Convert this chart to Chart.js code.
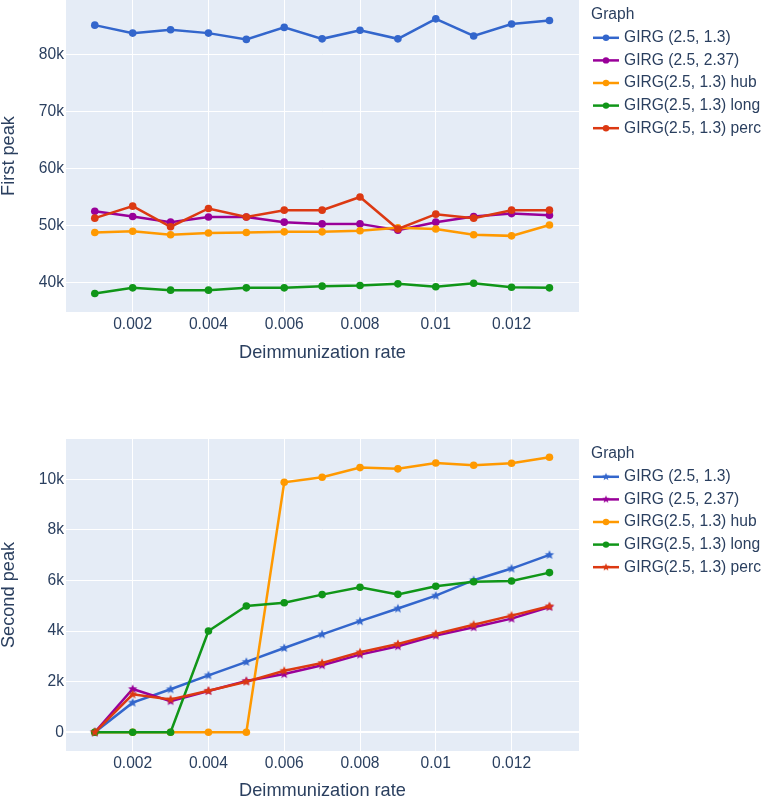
<!DOCTYPE html>
<html>
<head>
<meta charset="utf-8">
<script src="https://cdn.jsdelivr.net/npm/chart.js@4.4.1/dist/chart.umd.min.js"></script>
<style>
  html, body { margin: 0; padding: 0; background: #fff; overflow: hidden; width: 768px; height: 798px; }
  .panel { position: absolute; left: 0; width: 768px; }
  #top-panel { top: 0; height: 400px; }
  #bottom-panel { top: 400px; height: 420px; }
</style>
</head>
<body>
<div class="panel" id="top-panel"><canvas id="chart-first" width="768" height="400"></canvas></div>
<div class="panel" id="bottom-panel"><canvas id="chart-second" width="768" height="420"></canvas></div>
<script>
// Deimmunization rates (x) shared by both panels.
const RATES = [0.001, 0.002, 0.003, 0.004, 0.005, 0.006, 0.007, 0.008, 0.009, 0.010, 0.011, 0.012, 0.013];
const NAMES = ["GIRG (2.5, 1.3)", "GIRG (2.5, 2.37)", "GIRG(2.5, 1.3) hub", "GIRG(2.5, 1.3) long", "GIRG(2.5, 1.3) perc"];
const COLORS = ["#3366CC", "#990099", "#FF9900", "#109618", "#DC3912"];

// First peak
const FIRST_GIRG_13   = [85100, 83700, 84300, 83700, 82600, 84700, 82700, 84200, 82700, 86200, 83200, 85300, 85900];
const FIRST_GIRG_237  = [52500, 51600, 50600, 51500, 51500, 50600, 50300, 50300, 49200, 50600, 51600, 52100, 51800];
const FIRST_HUB       = [48800, 49000, 48400, 48700, 48800, 48900, 48900, 49100, 49600, 49400, 48400, 48200, 50100];
const FIRST_LONG      = [38100, 39100, 38700, 38700, 39100, 39100, 39400, 39500, 39800, 39300, 39900, 39200, 39100];
const FIRST_PERC      = [51300, 53400, 49800, 53000, 51500, 52700, 52700, 55000, 49400, 52000, 51300, 52700, 52700];

// Second peak
const SECOND_GIRG_13  = [0, 1170, 1700, 2250, 2780, 3330, 3870, 4390, 4890, 5400, 6010, 6470, 7010];
const SECOND_GIRG_237 = [0, 1710, 1230, 1630, 2030, 2300, 2650, 3070, 3400, 3820, 4150, 4490, 4950];
const SECOND_HUB      = [0, 0, 0, 0, 0, 9880, 10080, 10460, 10410, 10640, 10550, 10630, 10870];
const SECOND_LONG     = [0, 0, 0, 4000, 4990, 5120, 5440, 5730, 5450, 5770, 5950, 5980, 6310];
const SECOND_PERC     = [0, 1500, 1300, 1640, 2000, 2430, 2740, 3160, 3490, 3890, 4250, 4610, 4980];

const X_TICKS = [0.002, 0.004, 0.006, 0.008, 0.01, 0.012];

const INK = "#2a3f5f";
const PLOT_BG = "#E5ECF6";
const FONT = '"Liberation Sans", Arial, sans-serif';

Chart.defaults.font.family = FONT;
Chart.defaults.color = INK;

// filled five-point star, like plotly's "star" marker
function makeStar(color, r) {
  const size = Math.ceil(r * 2 + 2);
  const c = document.createElement("canvas");
  c.width = size; c.height = size;
  const g = c.getContext("2d");
  const cx = size / 2, cy = size / 2, inner = r * 0.45;
  g.beginPath();
  for (let i = 0; i < 10; i++) {
    const rad = i % 2 === 0 ? r : inner;
    const a = -Math.PI / 2 + i * Math.PI / 5;
    const px = cx + rad * Math.cos(a), py = cy + rad * Math.sin(a);
    i === 0 ? g.moveTo(px, py) : g.lineTo(px, py);
  }
  g.closePath();
  g.fillStyle = color;
  g.fill();
  return c;
}

const pts = (ys) => RATES.map((x, i) => ({ x, y: ys[i] }));

function datasets(series, markers) {
  return series.map((ys, i) => ({
    label: NAMES[i],
    data: pts(ys),
    borderColor: COLORS[i],
    backgroundColor: COLORS[i],
    borderWidth: 2.5,
    pointRadius: 3.8,
    pointBorderWidth: 0,
    pointStyle: markers[i] === "star" ? makeStar(COLORS[i], 4.8) : "circle",
    tension: 0,
    order: series.length - i,   // later traces on top, as in the source
  }));
}

// plot background + right-hand legend with "Graph" title
function panelPlugin(markers) {
  return {
    id: "panel",
    beforeDraw(chart) {
      const { ctx, chartArea: a } = chart;
      ctx.save();
      ctx.fillStyle = PLOT_BG;
      ctx.fillRect(a.left, a.top, a.right - a.left, a.bottom - a.top);
      ctx.restore();
    },
    afterDraw(chart) {
      const { ctx, chartArea: a } = chart;
      const x0 = a.right + 12;
      ctx.save();
      ctx.font = `15.6px ${FONT}`;
      ctx.fillStyle = INK;
      ctx.textBaseline = "middle";
      ctx.textAlign = "left";
      ctx.fillText("Graph", x0, a.top + 15);
      NAMES.forEach((name, i) => {
        const y = a.top + 37.8 + i * 22.6;
        ctx.strokeStyle = COLORS[i];
        ctx.lineWidth = 2.5;
        ctx.beginPath();
        ctx.moveTo(x0 + 2, y);
        ctx.lineTo(x0 + 28, y);
        ctx.stroke();
        if (markers[i] === "star") {
          const s = makeStar(COLORS[i], 4);
          ctx.drawImage(s, x0 + 15 - s.width / 2, y - s.height / 2);
        } else {
          ctx.fillStyle = COLORS[i];
          ctx.beginPath();
          ctx.arc(x0 + 15, y, 3.2, 0, Math.PI * 2);
          ctx.fill();
        }
        ctx.fillStyle = INK;
        ctx.fillText(name, x0 + 33, y);
      });
      ctx.restore();
    },
  };
}

function buildChart(canvasId, opts) {
  return new Chart(document.getElementById(canvasId), {
    type: "line",
    data: { datasets: datasets(opts.series, opts.markers) },
    options: {
      responsive: false,
      animation: false,
      layout: { autoPadding: false, padding: { top: opts.padTop, left: 0, right: 189, bottom: 0 } },
      plugins: { legend: { display: false }, tooltip: { enabled: false } },
      scales: {
        x: {
          type: "linear",
          min: 0.00024, max: 0.01378,
          afterFit: (s) => { s.height = opts.xHeight; s.paddingLeft = 0; s.paddingRight = 0; },
          afterBuildTicks: (s) => { s.ticks = X_TICKS.map(v => ({ value: v })); },
          grid: { color: "#ffffff", lineWidth: 1, drawTicks: false },
          border: { display: false },
          ticks: {
            padding: 3, maxRotation: 0, autoSkip: false,
            color: INK, font: { size: 15.6 },
            callback: (v) => String(parseFloat(Number(v).toFixed(3))),
          },
          title: {
            display: true, text: "Deimmunization rate", color: INK,
            font: { size: 18.2 }, padding: { top: 0, bottom: opts.titlePad },
          },
        },
        y: {
          type: "linear",
          min: opts.yMin, max: opts.yMax,
          afterFit: (s) => { s.width = 66; s.paddingTop = 0; s.paddingBottom = 0; },
          afterBuildTicks: (s) => { s.ticks = opts.yTicks.map(v => ({ value: v })); },
          grid: {
            color: "#ffffff", drawTicks: false,
            lineWidth: (c) => (c.tick && c.tick.value === 0 ? 2 : 1),
          },
          border: { display: false },
          ticks: {
            padding: 2, color: INK, font: { size: 15.6 },
            callback: (v) => (v === 0 ? "0" : `${v / 1000}k`),
          },
          title: {
            display: true, text: opts.yTitle, color: INK,
            font: { size: 18.2, lineHeight: 1 }, padding: 0,
          },
        },
      },
    },
    plugins: [panelPlugin(opts.markers)],
  });
}

buildChart("chart-first", {
  series: [FIRST_GIRG_13, FIRST_GIRG_237, FIRST_HUB, FIRST_LONG, FIRST_PERC],
  markers: ["circle", "circle", "circle", "circle", "circle"],
  yMin: 34870, yMax: 89500,
  yTicks: [40000, 50000, 60000, 70000, 80000],
  yTitle: "First peak",
  padTop: 0, xHeight: 88, titlePad: 36,
});

buildChart("chart-second", {
  series: [SECOND_GIRG_13, SECOND_GIRG_237, SECOND_HUB, SECOND_LONG, SECOND_PERC],
  markers: ["star", "star", "circle", "circle", "star"],
  yMin: -740, yMax: 11590,
  yTicks: [0, 2000, 4000, 6000, 8000, 10000],
  yTitle: "Second peak",
  padTop: 39, xHeight: 69, titlePad: 18.5,
});
</script>
</body>
</html>
